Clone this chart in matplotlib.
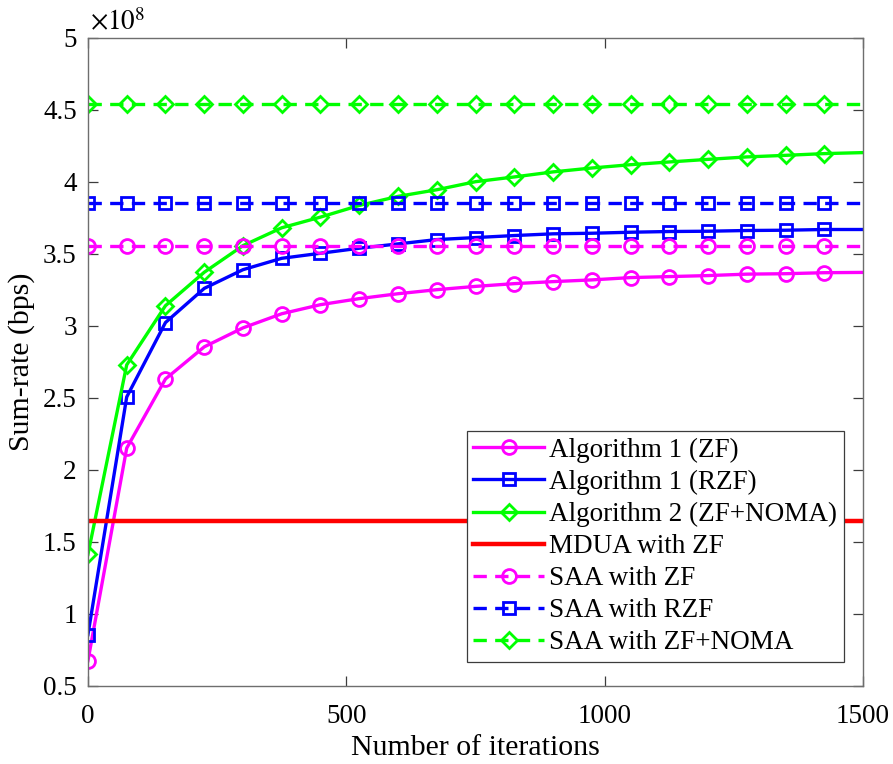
import numpy as np
import matplotlib
matplotlib.use('Agg')
import matplotlib.pyplot as plt

plt.rcParams['font.family'] = ['Liberation Serif', 'DejaVu Serif']
plt.rcParams['mathtext.fontset'] = 'stix'

# iterations where the algorithms were sampled (last point has no marker)
iteracoes = [0, 75, 150, 225, 300, 375, 450, 525, 600, 675, 750, 825, 900,
             975, 1050, 1125, 1200, 1275, 1350, 1425, 1500]

# sum-rate values in units of 1e8 bps
alg1_zf = [0.676, 2.152, 2.632, 2.855, 2.987, 3.085, 3.148, 3.19, 3.224,
           3.252, 3.275, 3.294, 3.308, 3.32, 3.336, 3.343, 3.35, 3.36,
           3.363, 3.37, 3.372]
alg1_rzf = [0.857, 2.507, 3.024, 3.261, 3.391, 3.47, 3.505, 3.54, 3.57,
            3.60, 3.614, 3.628, 3.64, 3.644, 3.651, 3.656, 3.658, 3.663,
            3.665, 3.67, 3.67]
alg2_noma = [1.414, 2.73, 3.141, 3.373, 3.558, 3.682, 3.756, 3.837, 3.9,
             3.946, 4.002, 4.035, 4.07, 4.097, 4.12, 4.139, 4.157, 4.174,
             4.185, 4.197, 4.204]

mdua_zf = 1.645
saa_zf = 3.558
saa_rzf = 3.851
saa_noma = 4.54

x = np.array(iteracoes)
marcas = list(range(len(iteracoes) - 1))

fig = plt.figure(figsize=(8.93, 7.64), dpi=100)
ax = fig.add_axes([0.0985, 0.1021, 0.868, 0.8482])

lw = 2.4
ms = 10
mew = 2.0
magenta = '#ff00ff'
azul = '#0000ff'
verde = '#00ff00'
vermelho = '#ff0000'

ax.plot(x, alg1_zf, '-', color=magenta, lw=lw, marker='o', ms=ms, mew=mew,
        fillstyle='none', markevery=marcas, label='Algorithm 1 (ZF)')
ax.plot(x, alg1_rzf, '-', color=azul, lw=lw, marker='s', ms=ms - 1, mew=mew,
        fillstyle='none', markevery=marcas, label='Algorithm 1 (RZF)')
ax.plot(x, alg2_noma, '-', color=verde, lw=lw, marker='D', ms=ms - 1.5, mew=mew,
        fillstyle='none', markevery=marcas, label='Algorithm 2 (ZF+NOMA)')
ax.plot(x, np.full(len(x), mdua_zf), '-', color=vermelho, lw=3.2,
        label='MDUA with ZF')
ax.plot(x, np.full(len(x), saa_zf), '--', color=magenta, lw=lw, marker='o',
        ms=ms, mew=mew, fillstyle='none', markevery=marcas, dashes=(4, 2.5),
        label='SAA with ZF')
ax.plot(x, np.full(len(x), saa_rzf), '--', color=azul, lw=lw, marker='s',
        ms=ms - 1, mew=mew, fillstyle='none', markevery=marcas, dashes=(4, 2.5),
        label='SAA with RZF')
ax.plot(x, np.full(len(x), saa_noma), '--', color=verde, lw=lw, marker='D',
        ms=ms - 1.5, mew=mew, fillstyle='none', markevery=marcas, dashes=(4, 2.5),
        label='SAA with ZF+NOMA')

ax.set_xlim(0, 1500)
ax.set_ylim(0.5, 5)
ax.set_xticks([0, 500, 1000, 1500])
ax.set_yticks(np.arange(0.5, 5.01, 0.5))
ax.set_yticklabels(['0.5', '1', '1.5', '2', '2.5', '3', '3.5', '4', '4.5', '5'])

for s in ax.spines.values():
    s.set_color('#6e6e6e')
    s.set_linewidth(1.0)
ax.tick_params(direction='in', length=7, width=0.9, color='#3c3c3c',
               labelsize=19.5, top=True, right=True)
ax.tick_params(axis='x', pad=13)
ax.tick_params(axis='y', pad=8)
ax.set_xlabel('Number of iterations', fontsize=21.5, labelpad=4)
ax.set_ylabel('Sum-rate (bps)', fontsize=21.5, labelpad=6)
ax.text(0.003, 1.003, r'$\times10^{8}$', transform=ax.transAxes, fontsize=19.5,
        ha='left', va='bottom')

leg = ax.legend(loc='lower right', bbox_to_anchor=(0.9755, 0.037), fontsize=19.5,
                handlelength=2.6, labelspacing=0.26, borderpad=0.25,
                handletextpad=0.2, borderaxespad=0, fancybox=False,
                framealpha=1)
leg.get_frame().set_edgecolor('#3c3c3c')
leg.get_frame().set_linewidth(0.9)

fig.savefig('out.png', dpi=100)
